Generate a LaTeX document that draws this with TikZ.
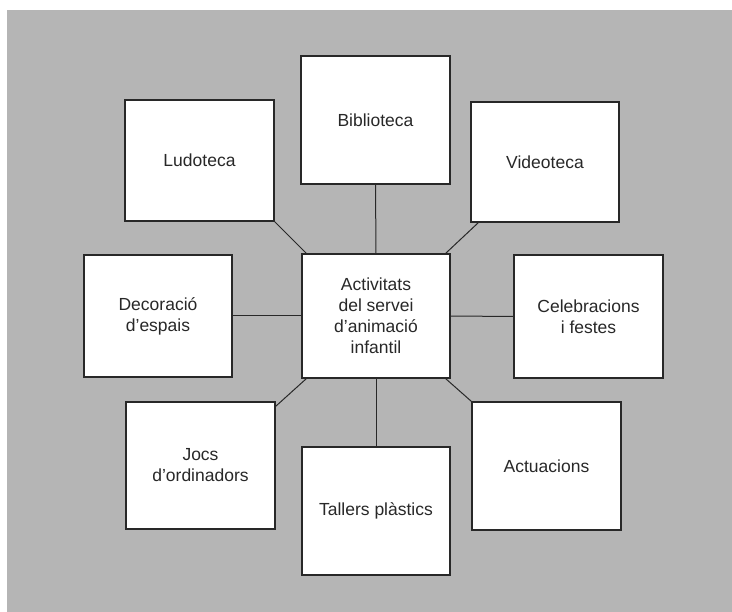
\documentclass[tikz,border=0pt]{standalone}
\usepackage{fontspec}
\setmainfont{Liberation Sans}
\definecolor{bggrey}{RGB}{181,181,181}
\definecolor{ink}{RGB}{40,40,40}
\begin{document}
\begin{tikzpicture}[x=1pt,y=-1pt,
  box/.style={draw=ink, line width=1.1pt, fill=white, rectangle, inner sep=2pt,
    align=center, text=ink, font=\fontsize{17.5}{21}\selectfont},
  link/.style={draw=ink, line width=1pt}]
\useasboundingbox (0,0) rectangle (732,612);
\fill[white] (0,0) rectangle (732,612);
\fill[bggrey] (7,10) rectangle (732,612);
\node[box, minimum width=149pt, minimum height=128pt] (bib) at (375.5,120) {Biblioteca};
\node[box, minimum width=149pt, minimum height=121pt] (lud) at (199.5,160.5) {Ludoteca};
\node[box, minimum width=148pt, minimum height=120pt] (vid) at (545,162) {Videoteca};
\node[box, minimum width=148pt, minimum height=122pt] (dec) at (158,316) {Decoració\\d’espais};
\node[box, minimum width=148pt, minimum height=124pt] (cen) at (376,316) {Activitats\\del servei\\d’animació\\infantil};
\node[box, minimum width=149pt, minimum height=123pt] (cel) at (588.5,316.5) {Celebracions\\i festes};
\node[box, minimum width=149pt, minimum height=127pt] (joc) at (200.5,465.5) {Jocs\\d’ordinadors};
\node[box, minimum width=148pt, minimum height=128pt] (tal) at (376,511) {Tallers plàstics};
\node[box, minimum width=149pt, minimum height=128pt] (act) at (546.5,466) {Actuacions};
\draw[link] (bib.south) -- (cen.north);
\draw[link] (lud.south east) -- ([xshift=5pt]cen.north west);
\draw[link] ([xshift=8pt]vid.south west) -- ([xshift=-5pt]cen.north east);
\draw[link] (dec.east) -- (cen.west);
\draw[link] (cen.east) -- (cel.west);
\draw[link] ([xshift=5pt]cen.south west) -- ([yshift=-5pt]joc.north east);
\draw[link] (cen.south) -- (tal.north);
\draw[link] ([xshift=-5pt]cen.south east) -- (act.north west);
\end{tikzpicture}
\end{document}
